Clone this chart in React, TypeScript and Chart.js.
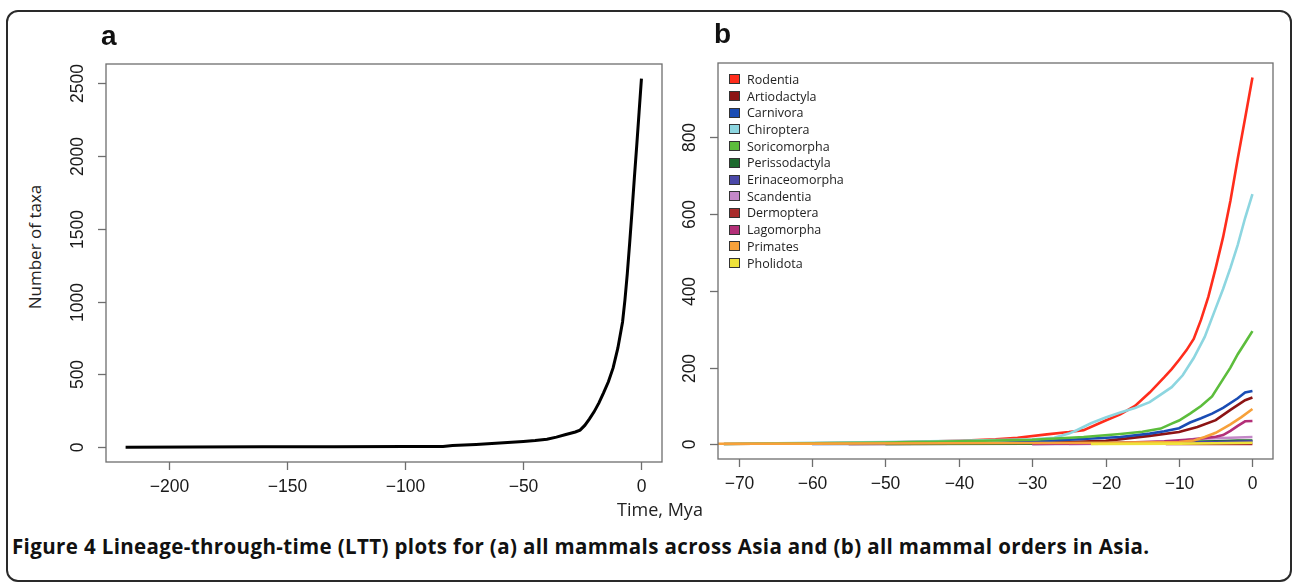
import React, { useEffect, useRef } from "react";
import { Chart, registerables } from "chart.js";
Chart.register(...registerables);

// ---------- Panel a: all mammals ----------
const timeA = [-218.4, -190, -160, -130, -100, -84, -80, -75, -70, -65, -60, -55, -50, -45, -40, -36, -32, -28, -26, -24, -22, -20, -18, -16, -14, -12, -10, -8, -7, -6, -5, -4, -3, -2, -1, 0];
const taxaA = [1, 2, 3, 4, 5, 6, 12, 15, 19, 24, 29, 34, 40, 46, 55, 70, 88, 105, 118, 150, 195, 245, 305, 375, 450, 545, 680, 860, 1010, 1190, 1400, 1620, 1850, 2070, 2300, 2530];
const ticksAX = [-200, -150, -100, -50, 0];
const ticksAY = [0, 500, 1000, 1500, 2000, 2500];

// ---------- Panel b: mammal orders ----------
const ticksBX = [-70, -60, -50, -40, -30, -20, -10, 0];
const ticksBY = [0, 200, 400, 600, 800];

const orderNames = ["Rodentia", "Artiodactyla", "Carnivora", "Chiroptera", "Soricomorpha", "Perissodactyla", "Erinaceomorpha", "Scandentia", "Dermoptera", "Lagomorpha", "Primates", "Pholidota"];
const orderColors = ["#ff2d1c", "#8c1414", "#1a4cb4", "#8dd6e0", "#5cbd3c", "#1d6a2e", "#4a48a8", "#c488c8", "#a82c2c", "#b32f78", "#f7a13a", "#efe23a"];

const rodentiaTime = [-72, -60, -50, -40, -35, -32, -28, -25, -23, -20, -18, -16, -14, -13, -12, -11, -10, -9, -8, -7, -6, -5, -4, -3, -2, -1, 0];
const rodentiaTaxa = [1, 3, 5, 9, 13, 17, 26, 32, 37, 62, 78, 100, 135, 155, 175, 196, 220, 245, 275, 325, 385, 460, 540, 635, 745, 850, 956];
const artiodactylaTime = [-55, -40, -30, -25, -20, -14, -10, -7.5, -5, -3, -1, 0];
const artiodactylaTaxa = [1, 2, 4, 6, 9, 22, 32, 45, 63, 90, 115, 122];
const carnivoraTime = [-60, -45, -35, -30, -25, -18, -14, -12, -10, -8.5, -7, -5.5, -4, -2, -1, 0];
const carnivoraTaxa = [1, 2, 4, 7, 12, 19, 28, 34, 42, 57, 68, 80, 95, 120, 135, 139];
const chiropteraTime = [-72, -60, -50, -40, -30, -27, -25, -24, -22, -20, -18, -16, -14, -13, -11, -9.5, -8, -6.5, -5, -4, -3, -2, -1, 0];
const chiropteraTaxa = [1, 4, 6, 9, 13, 17, 28, 36, 55, 70, 83, 95, 110, 123, 149, 180, 225, 280, 355, 405, 460, 520, 590, 652];
const soricomorphaTime = [-72, -60, -50, -40, -30, -23, -18, -15, -12.5, -11, -10, -8.5, -7, -5.5, -4, -3, -2, -1, 0];
const soricomorphaTaxa = [1, 3, 5, 8, 12, 19, 27, 33, 41, 54, 62, 80, 100, 125, 170, 200, 235, 265, 295];
const perissodactylaTime = [-50, -30, -15, -5, -2, 0];
const perissodactylaTaxa = [1, 2, 4, 8, 10, 10];
const erinaceomorphaTime = [-30, -20, -10, 0];
const erinaceomorphaTaxa = [1, 2, 4, 8];
const scandentiaTime = [-25, -15, -10, -8, -5, -2, 0];
const scandentiaTaxa = [1, 3, 8, 14, 16, 18, 19];
const dermopteraTime = [-11.8, 0];
const dermopteraTaxa = [1, 1];
const lagomorphaTime = [-30, -20, -12, -8, -5, -4, -3, -2, -1, 0];
const lagomorphaTaxa = [1, 3, 8, 13, 20, 24, 35, 48, 60, 61];
const primatesTime = [-80, -60, -40, -20, -10, -8, -6.5, -5, -3, -1.5, 0];
const primatesTaxa = [1, 2, 3, 4, 6, 10, 19, 30, 52, 71, 92];
const pholidotaTime = [-22, -10, -5, 0];
const pholidotaTaxa = [1, 2, 3, 4];

const orderTimes = [rodentiaTime, artiodactylaTime, carnivoraTime, chiropteraTime, soricomorphaTime, perissodactylaTime, erinaceomorphaTime, scandentiaTime, dermopteraTime, lagomorphaTime, primatesTime, pholidotaTime];
const orderTaxa = [rodentiaTaxa, artiodactylaTaxa, carnivoraTaxa, chiropteraTaxa, soricomorphaTaxa, perissodactylaTaxa, erinaceomorphaTaxa, scandentiaTaxa, dermopteraTaxa, lagomorphaTaxa, primatesTaxa, pholidotaTaxa];

const TICK_FONT = '17.5px "Liberation Sans", Arial, sans-serif';
const TEXT_FONT = '"Open Sans", "Noto Sans", sans-serif';

function fmt(v: number) {
  return v < 0 ? "\u2212" + String(-v) : String(v);
}

function makeAxisPlugin(xTicks: number[], yTicks: number[]) {
  return {
    id: "rAxes",
    afterDatasetsDraw(chart: any) {
      const { ctx, chartArea: ca, scales } = chart;
      const x = scales.x;
      const y = scales.y;
      ctx.save();
      ctx.strokeStyle = "#6e6e6e";
      ctx.lineWidth = 1.3;
      ctx.strokeRect(ca.left, ca.top, ca.right - ca.left, ca.bottom - ca.top);
      ctx.fillStyle = "#1a1a1a";
      ctx.font = TICK_FONT;
      ctx.textAlign = "center";
      ctx.textBaseline = "middle";
      for (const v of xTicks) {
        const px = Math.round(x.getPixelForValue(v)) + 0.5;
        ctx.beginPath();
        ctx.moveTo(px, ca.bottom);
        ctx.lineTo(px, ca.bottom + 8);
        ctx.stroke();
        ctx.fillText(fmt(v), px, ca.bottom + 25);
      }
      for (const v of yTicks) {
        const py = Math.round(y.getPixelForValue(v)) + 0.5;
        ctx.beginPath();
        ctx.moveTo(ca.left - 8, py);
        ctx.lineTo(ca.left, py);
        ctx.stroke();
        ctx.save();
        ctx.translate(ca.left - 27.5, py);
        ctx.rotate(-Math.PI / 2);
        ctx.fillText(fmt(v), 0, 0);
        ctx.restore();
      }
      ctx.restore();
    },
  };
}

function baseOptions(xmin: number, xmax: number, ymin: number, ymax: number, padding: any) {
  return {
    responsive: false,
    animation: false as const,
    layout: { padding },
    plugins: { legend: { display: false }, tooltip: { enabled: false } },
    elements: { point: { radius: 0 }, line: { tension: 0 } },
    scales: {
      x: { type: "linear" as const, min: xmin, max: xmax, display: false },
      y: { type: "linear" as const, min: ymin, max: ymax, display: false },
    },
  };
}

export default function App() {
  const refA = useRef<HTMLCanvasElement>(null);
  const refB = useRef<HTMLCanvasElement>(null);

  useEffect(() => {
    const chartA = new Chart(refA.current!, {
      type: "line",
      data: {
        datasets: [
          {
            data: timeA.map((t, i) => ({ x: t, y: taxaA[i] })),
            borderColor: "#000",
            borderWidth: 3,
            pointRadius: 0,
            fill: false,
          },
        ],
      },
      options: baseOptions(-226.7, 8.7, -101, 2631, { left: 56, top: 14, right: 38, bottom: 48 }) as any,
      plugins: [makeAxisPlugin(ticksAX, ticksAY)],
    });

    const n = orderNames.length;
    const chartB = new Chart(refB.current!, {
      type: "line",
      data: {
        datasets: orderNames.map((name, k) => ({
          label: name,
          data: orderTimes[k].map((t, i) => ({ x: t, y: orderTaxa[k][i] })),
          borderColor: orderColors[k],
          borderWidth: 2.6,
          pointRadius: 0,
          fill: false,
          order: n - k,
        })),
      },
      options: baseOptions(-72.8, 2.8, -38.2, 994, { left: 48, top: 23, right: 17, bottom: 51 }) as any,
      plugins: [makeAxisPlugin(ticksBX, ticksBY)],
    });

    return () => {
      chartA.destroy();
      chartB.destroy();
    };
  }, []);

  const abs = (s: React.CSSProperties): React.CSSProperties => ({ position: "absolute", ...s });

  return (
    <div style={{ position: "fixed", left: 0, top: 0, width: 1292, height: 585, background: "#fff", overflow: "hidden" }}>
      <div style={abs({ left: 6, top: 10, width: 1282, height: 568, border: "2px solid #2a2a2a", borderRadius: 12 })} />
      <canvas ref={refA} width={650} height={460} style={abs({ left: 50, top: 50, width: 650, height: 460 })} />
      <canvas ref={refB} width={620} height={470} style={abs({ left: 670, top: 40, width: 620, height: 470 })} />

      <div style={abs({ left: 101, top: 20, font: 'bold 28px "Liberation Sans", Arial, sans-serif', lineHeight: "32px", color: "#111" })}>a</div>
      <div style={abs({ left: 714, top: 18, font: 'bold 28px "Liberation Sans", Arial, sans-serif', lineHeight: "32px", color: "#111" })}>b</div>

      <div style={abs({ left: 34, top: 247, transform: "translate(-50%, -50%) rotate(-90deg)", font: `17px ${TEXT_FONT}`, color: "#222", whiteSpace: "nowrap" })}>Number of taxa</div>
      <div style={abs({ left: 660, top: 509, transform: "translate(-50%, -50%)", font: `18px ${TEXT_FONT}`, color: "#222", whiteSpace: "nowrap" })}>Time, Mya</div>

      <div style={abs({ left: 12, top: 546, transform: "translateY(-50%)", font: `bold 20.5px ${TEXT_FONT}`, letterSpacing: "0.37px", color: "#111", whiteSpace: "nowrap" })}>
        Figure 4 Lineage-through-time (LTT) plots for (a) all mammals across Asia and (b) all mammal orders in Asia.
      </div>

      {orderNames.map((name, k) => (
        <div key={name} style={abs({ left: 729, top: 79.3 + k * 16.7 - 8, height: 16, display: "flex", alignItems: "center" })}>
          <div style={{ width: 9, height: 8, background: orderColors[k], border: "1px solid #333" }} />
          <div style={{ marginLeft: 7, font: `12.5px ${TEXT_FONT}`, color: "#222", whiteSpace: "nowrap" }}>{name}</div>
        </div>
      ))}
    </div>
  );
}
